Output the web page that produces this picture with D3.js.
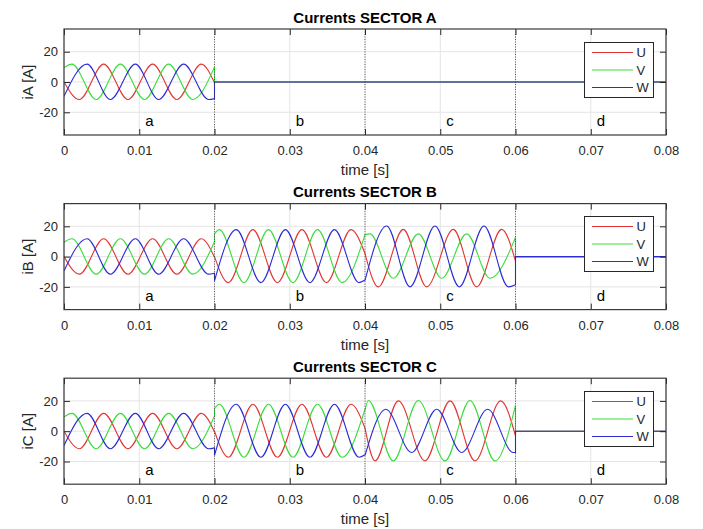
<!DOCTYPE html>
<html>
<head>
<meta charset="utf-8">
<script src="https://cdn.jsdelivr.net/npm/d3@7/dist/d3.min.js"></script>
<style>
  body { margin: 0; background: #fff; }
  svg { display: block; font-family: "Liberation Sans", Arial, Helvetica, sans-serif; }
</style>
</head>
<body>
<div id="chart"></div>
<script>
const sectors = ['A', 'B', 'C']
const phases = ['U', 'V', 'W']
const phaseColors = ['#e23535', '#3ddc3d', '#2c2cd4']
const xTicks = [0, 0.01, 0.02, 0.03, 0.04, 0.05, 0.06, 0.07, 0.08]
const yTicks = [-20, 0, 20]
const stepTimes = [0.02, 0.04, 0.06]
const regionNames = ['a', 'b', 'c', 'd']
const regionStarts = [0, 0.02, 0.04, 0.06]

// [time s, current A] : segment ends, peaks and troughs
// segment a (0 - 0.02 s), same in every sector
const aU = [[0, 0], [0.00204, -11.6], [0.00527, 11.8], [0.0085, -11.6], [0.01178, 11.8], [0.015, -11.6], [0.01825, 11.8], [0.02, -0.5]]
const aV = [[0, 9.5], [0.00106, 11.8], [0.00428, -11.6], [0.00749, 11.8], [0.0107, -11.6], [0.01391, 11.8], [0.01712, -11.6], [0.02, 10]]
const aW = [[0, -9.5], [0.00306, 11.8], [0.00616, -11.6], [0.00948, 11.8], [0.01258, -11.6], [0.0159, 11.8], [0.01922, -11.6], [0.02, -11]]
// segment b (0.02 - 0.04 s), sectors B and C
const bU = [[0.02, 0], [0.02184, -17.2], [0.0251, 17.8], [0.02836, -17.2], [0.03162, 17.8], [0.03488, -17.2], [0.03814, 17.8], [0.04, 2]]
const bV = [[0.02, 15], [0.02065, 17.8], [0.02391, -17.2], [0.02717, 17.8], [0.03043, -17.2], [0.03369, 17.8], [0.03695, -17.2], [0.04, 14.5]]
const bW = [[0.02, -16], [0.0229, 17.8], [0.02616, -17.2], [0.02942, 17.8], [0.03268, -17.2], [0.03594, 17.8], [0.0392, -17.2], [0.04, -15.5]]
// segment c (0.04 - 0.06 s), sector B
const cUB = [[0.04, 2], [0.04177, -20], [0.04509, 18], [0.0482, -20], [0.05174, 18], [0.05484, -20], [0.05816, 18], [0.06, -3]]
const cVB = [[0.04, 14.5], [0.04066, 15], [0.04376, -14.3], [0.04709, 15], [0.0502, -14.3], [0.05351, 15], [0.05661, -14.3], [0.06, 12.7]]
const cWB = [[0.04, -15.7], [0.04288, 20.2], [0.04598, -20], [0.0493, 20.2], [0.05254, -20], [0.05581, 20.2], [0.05905, -20], [0.06, -18.6]]
// segment c (0.04 - 0.06 s), sector C
const cUC = [[0.04, 2], [0.04133, -19.6], [0.04443, 20], [0.04797, -19.6], [0.0513, 20], [0.05462, -19.6], [0.05803, 20], [0.06, -3]]
const cVC = [[0.04, 14], [0.04045, 20.3], [0.04376, -19.6], [0.04709, 20.3], [0.05063, -19.6], [0.05395, 20.3], [0.05728, -19.6], [0.06, 17]]
const cWC = [[0.04, -16], [0.04275, 14.5], [0.0462, -14.1], [0.04953, 14.5], [0.05285, -14.1], [0.0563, 14.5], [0.05971, -14.1], [0.06, -14]]
// switched off
const zeroFromB = [[0.02, 0], [0.08, 0]]
const zeroFromD = [[0.06, 0], [0.08, 0]]

const sectorPieces = {
  A: [[aU, zeroFromB], [aV, zeroFromB], [aW, zeroFromB]],
  B: [[aU, bU, cUB, zeroFromD], [aV, bV, cVB, zeroFromD], [aW, bW, cWB, zeroFromD]],
  C: [[aU, bU, cUC, zeroFromD], [aV, bV, cVC, zeroFromD], [aW, bW, cWC, zeroFromD]]
}

class SectorPlot {
  constructor(config) {
    const {
      svg,
      sector,
      top,
      left = 64,
      width = 602,
      height = 106
    } = config
    this.svg = svg
    this.sector = sector
    this.top = top
    this.left = left
    this.width = width
    this.height = height
    this.pieces = sectorPieces[sector]
    this.x = d3.scaleLinear().domain([0, 0.08]).range([left, left + width])
    this.y = d3.scaleLinear().domain([-35, 35]).range([top + height, top])
    this.axisColor = '#262626'
  }
  render() {
    this.g = this.svg.append('g')
    this.renderGrid()
    this.renderCurves()
    this.renderSteps()
    this.renderAxes()
    this.renderTexts()
    this.renderLegend()
  }
  renderGrid() {
    const grid = this.g.append('g').attr('stroke', '#e4e4e4').attr('stroke-width', 1)
    grid.selectAll('line.gx').data(xTicks).join('line').attr('class', 'gx')
      .attr('x1', d => this.x(d)).attr('x2', d => this.x(d))
      .attr('y1', this.top).attr('y2', this.top + this.height)
    grid.selectAll('line.gy').data(yTicks).join('line').attr('class', 'gy')
      .attr('x1', this.left).attr('x2', this.left + this.width)
      .attr('y1', d => this.y(d)).attr('y2', d => this.y(d))
  }
  renderCurves() {
    const clipId = `clip-${this.sector}`
    this.g.append('clipPath').attr('id', clipId).append('rect')
      .attr('x', this.left).attr('y', this.top)
      .attr('width', this.width).attr('height', this.height)
    const line = d3.line()
      .x(d => this.x(d[0]))
      .y(d => this.y(d[1]))
      .curve(d3.curveMonotoneX)
    /** 每段单独成曲线, 段与段之间用直线连接 (跳变) */
    const pathOf = pieces => pieces.map((p, i) => {
      const s = line(p)
      return i === 0 ? s : 'L' + s.slice(1)
    }).join('')
    this.g.append('g').attr('clip-path', `url(#${clipId})`)
      .selectAll('path').data(this.pieces).join('path')
      .attr('d', d => pathOf(d))
      .attr('fill', 'none')
      .attr('stroke', (d, i) => phaseColors[i])
      .attr('stroke-width', 1.1)
  }
  renderSteps() {
    this.g.append('g').selectAll('line').data(stepTimes).join('line')
      .attr('x1', d => this.x(d)).attr('x2', d => this.x(d))
      .attr('y1', this.top).attr('y2', this.top + this.height)
      .attr('stroke', '#333').attr('stroke-width', 0.8)
      .attr('stroke-dasharray', '1 1.5')
  }
  renderAxes() {
    const bottom = this.top + this.height
    const right = this.left + this.width
    const fmt = d => String(d)
    const style = sel => {
      sel.select('.domain').remove()
      sel.selectAll('line').attr('stroke', this.axisColor)
      sel.selectAll('text').attr('fill', this.axisColor).attr('font-size', 13)
        .attr('font-family', '"Liberation Sans", Arial, Helvetica, sans-serif')
    }
    this.g.append('g').attr('transform', `translate(0, ${bottom})`)
      .call(d3.axisBottom(this.x).tickValues(xTicks).tickFormat(fmt).tickSize(-6).tickPadding(11))
      .call(style)
    this.g.append('g').attr('transform', `translate(0, ${this.top})`)
      .call(d3.axisTop(this.x).tickValues(xTicks).tickFormat('').tickSize(-6))
      .call(style)
    this.g.append('g').attr('transform', `translate(${this.left}, 0)`)
      .call(d3.axisLeft(this.y).tickValues(yTicks).tickFormat(fmt).tickSize(-6).tickPadding(6))
      .call(style)
    this.g.append('g').attr('transform', `translate(${right}, 0)`)
      .call(d3.axisRight(this.y).tickValues(yTicks).tickFormat('').tickSize(-6))
      .call(style)
    this.g.append('rect')
      .attr('x', this.left).attr('y', this.top)
      .attr('width', this.width).attr('height', this.height)
      .attr('fill', 'none').attr('stroke', '#3a3a3a').attr('stroke-width', 1.2)
  }
  renderTexts() {
    const bottom = this.top + this.height
    const cx = this.left + this.width / 2
    this.g.append('text')
      .attr('x', cx).attr('y', this.top - 6.5)
      .attr('text-anchor', 'middle')
      .attr('font-size', 15).attr('font-weight', 'bold').attr('fill', '#000')
      .text(`Currents SECTOR ${this.sector}`)
    this.g.append('text')
      .attr('x', cx).attr('y', bottom + 40)
      .attr('text-anchor', 'middle')
      .attr('font-size', 15).attr('fill', this.axisColor)
      .text('time [s]')
    this.g.append('text')
      .attr('transform', `translate(33, ${this.top + this.height / 2}) rotate(-90)`)
      .attr('text-anchor', 'middle')
      .attr('font-size', 15).attr('fill', this.axisColor)
      .text(`i${this.sector} [A]`)
    this.g.append('g').selectAll('text').data(regionNames).join('text')
      .attr('x', (d, i) => this.x(regionStarts[i] + 0.0108))
      .attr('y', this.y(-29))
      .attr('font-size', 15).attr('fill', '#000')
      .text(d => d)
  }
  renderLegend() {
    /** 对齐到像素, 让细线清晰 */
    const lx = Math.round(this.left + this.width - 82) + 0.5
    const ly = Math.round(this.top + 12.7) + 0.5
    const lg = this.g.append('g').attr('transform', `translate(${lx}, ${ly})`)
    lg.append('rect')
      .attr('width', 69).attr('height', 55)
      .attr('fill', '#fff').attr('stroke', '#262626').attr('stroke-width', 1)
    const rows = lg.selectAll('g').data(phases).join('g')
      .attr('transform', (d, i) => `translate(0, ${10 + i * 17.5})`)
    rows.append('line')
      .attr('x1', 7.5).attr('x2', 48.5)
      .attr('stroke', (d, i) => phaseColors[i]).attr('stroke-width', 1)
    rows.append('text')
      .attr('x', 52).attr('dy', '0.36em')
      .attr('font-size', 13).attr('fill', this.axisColor)
      .text(d => d)
  }
}

const svg = d3.select('#chart').append('svg')
  .attr('width', 703).attr('height', 529)

sectors.forEach((s, i) => {
  new SectorPlot({ svg, sector: s, top: 29 + i * 174.6 }).render()
})
</script>
</body>
</html>
